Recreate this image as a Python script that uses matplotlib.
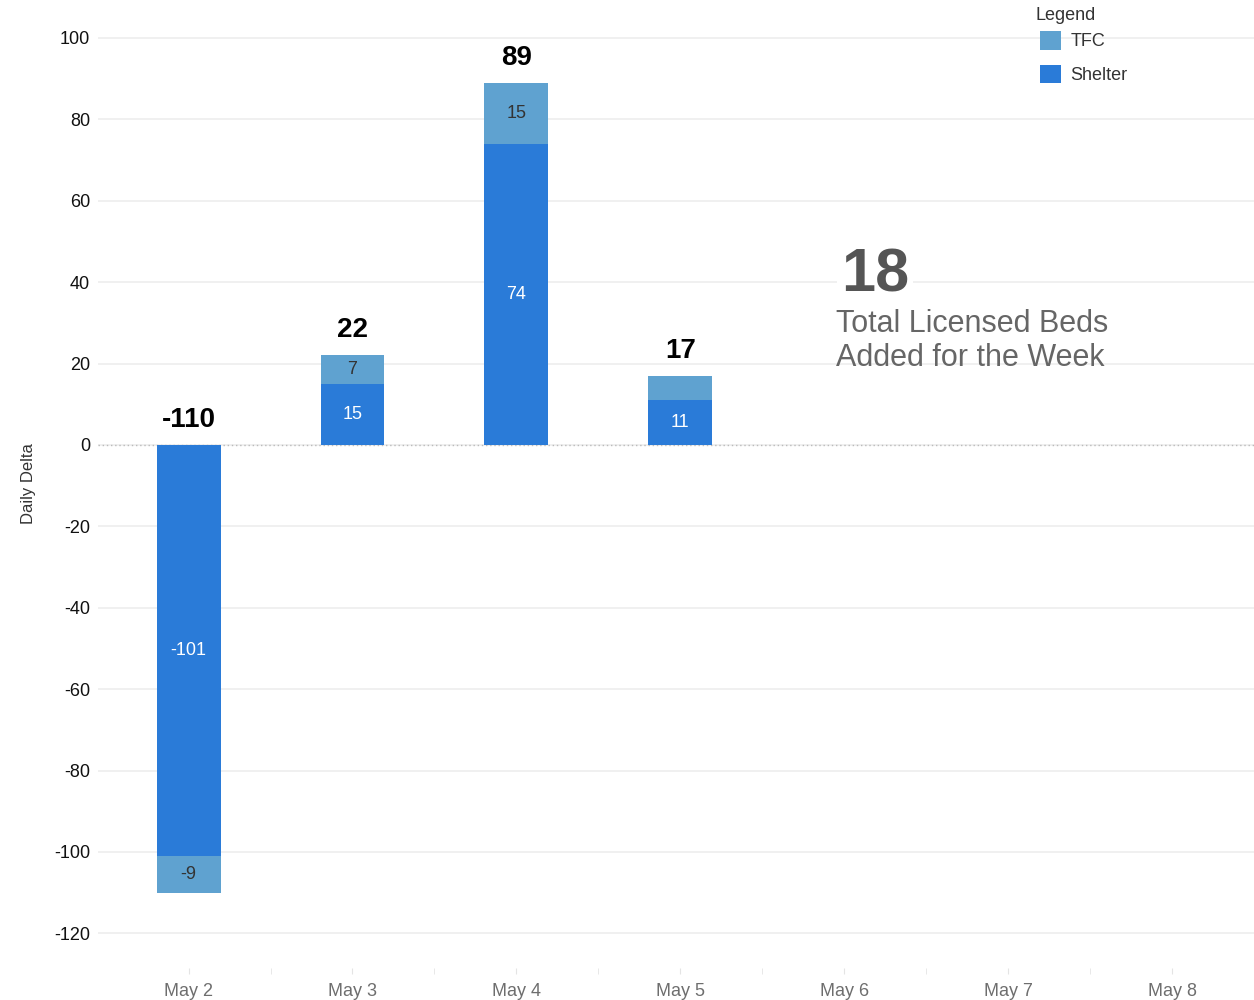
import matplotlib.pyplot as plt
import numpy as np

plt.rcParams['font.family'] = ['Liberation Sans', 'DejaVu Sans']
plt.rcParams['axes.unicode_minus'] = False

# Data
days = ["May 2", "May 3", "May 4", "May 5", "May 6", "May 7", "May 8"]
shelter = [-101, 15, 74, 11, 0, 0, 0]
tfc = [-9, 7, 15, 6, 0, 0, 0]
tfc_labels = ["-9", "7", "15", "", "", "", ""]
shelter_labels = ["-101", "15", "74", "11", "", "", ""]
week_total = 18

c_shelter = "#2a7bd8"
c_tfc = "#5fa2d0"

fig = plt.figure(figsize=(12.54, 10), dpi=100)
ax = fig.add_axes([0.0785, 0.032, 0.9215, 0.968])

x = np.arange(len(days))
shelter = np.array(shelter)
tfc = np.array(tfc)
totals = shelter + tfc
w = 0.39

ax.bar(x, shelter, w, color=c_shelter, zorder=3, label="Shelter")
ax.bar(x, tfc, w, bottom=shelter, color=c_tfc, zorder=3, label="TFC")

# segment labels
for i in range(len(days)):
    if shelter_labels[i]:
        ax.text(x[i], shelter[i] / 2, shelter_labels[i], ha="center", va="center",
                color="white", fontsize=13, zorder=4)
    if tfc_labels[i]:
        ax.text(x[i], shelter[i] + tfc[i] / 2, tfc_labels[i], ha="center", va="center",
                color="#333333", fontsize=13, zorder=4)
    if shelter[i] != 0 or tfc[i] != 0:
        top = max(totals[i], 0)
        ax.annotate(f"{totals[i]}", (x[i], top), xytext=(0, 18), textcoords="offset points",
                    ha="center", va="center", fontsize=20, fontweight="bold", color="black")

# axes styling
ax.set_xlim(-0.55, 6.45)
ax.set_ylim(-128.5, 109.3)
ax.set_yticks(np.arange(-120, 101, 20))
ax.set_xticks(x)
ax.set_xticklabels(days)
ax.set_xticks(x + 0.5, minor=True)
for s in ax.spines.values():
    s.set_visible(False)
ax.tick_params(axis="y", length=0, labelsize=13, labelcolor="#111111", pad=6)
ax.tick_params(axis="x", which="both", length=4, color="#e4e4e4", labelsize=13,
               labelcolor="#6e6e6e", pad=7)
ax.yaxis.grid(True, color="#eeeeee", linewidth=1.2, zorder=0)
ax.axhline(0, color="#bbbbbb", linestyle=(0, (1, 2)), linewidth=1, zorder=2)
ax.set_ylabel("Daily Delta", fontsize=12, color="#333333", labelpad=13)

# weekly total annotation
ax.text(3.98, 41.5, f"{week_total}", fontsize=44, fontweight="bold", color="#555555",
        ha="left", va="center", zorder=5,
        bbox=dict(facecolor="white", edgecolor="none", pad=3))
ax.text(3.95, 25.5, "Total Licensed Beds\nAdded for the Week", fontsize=22, color="#666666",
        ha="left", va="center", linespacing=1.2, zorder=5)

# legend
fig.text(0.826, 0.984, "Legend", fontsize=13, color="#333333", ha="left", va="center")
handles, labels = ax.get_legend_handles_labels()
leg = fig.legend(handles[::-1], labels[::-1], loc="upper left",
                 bbox_to_anchor=(0.829, 0.969), frameon=False, fontsize=13,
                 handlelength=1.2, handleheight=1.2, borderpad=0, borderaxespad=0,
                 handletextpad=0.5, labelspacing=0.8)
for t in leg.get_texts():
    t.set_color("#333333")

fig.savefig("out.png", dpi=100)
